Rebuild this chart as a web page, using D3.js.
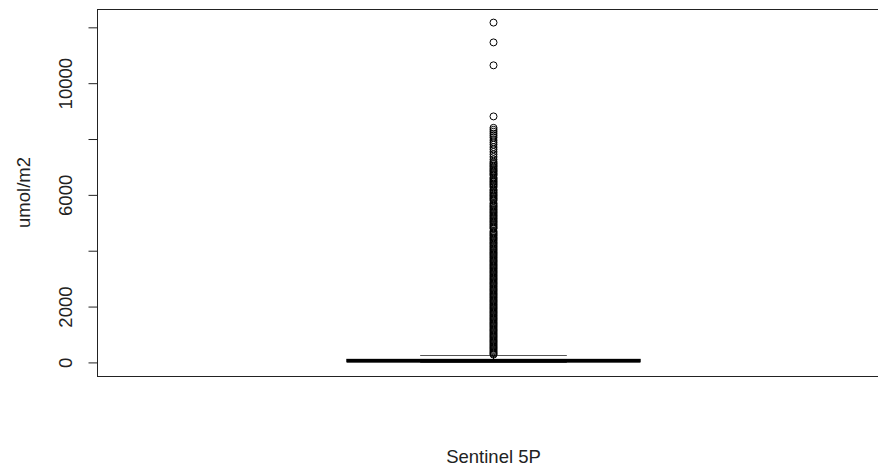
<!DOCTYPE html>
<meta charset="utf-8">
<style>
body {
  margin: 0;
  background: #fff;
}
text {
  font-family: "Liberation Sans", Arial, sans-serif;
  font-size: 18.5px;
  fill: #222;
}
</style>
<body>
<script src="https://cdn.jsdelivr.net/npm/d3@7"></script>
<script>

var width = 878,
    height = 468;

var group = "Sentinel 5P";
var yLabel = "umol/m2";

// box statistics (umol/m2)
var boxStats = {lowWhisker: 0, q1: 20, median: 60, q3: 110, highWhisker: 265};

// outliers
var outliersTop = [12170, 11460, 10640, 8810];
var outliersUpper = [8400, 8330, 8260, 8190, 8120, 8050, 7960, 7880, 7800, 7710,
  7630, 7540, 7450, 7360, 7270, 7190];
var outliersMiddle = [7140, 7100, 7050, 7010, 6960, 6915, 6870, 6830, 6780, 6740,
  6700, 6620, 6580, 6535, 6490, 6450, 6400, 6360, 6315, 6270, 6190, 6150, 6100,
  6060, 6010, 5970, 5925, 5880, 5840, 5790, 5710, 5670, 5620, 5580, 5535, 5490,
  5450, 5400, 5360, 5315, 5270, 5230, 5180, 5140, 5095, 5050, 5010, 4960, 4920,
  4875, 4830, 4790, 4705];
var outliersLower = [4660, 4615, 4570, 4530, 4480, 4440, 4395, 4350, 4300, 4262,
  4215, 4170, 4130, 4085, 4040, 3995, 3950, 3912, 3870, 3825, 3780, 3740, 3695,
  3650, 3610, 3565, 3520, 3480, 3436, 3390, 3350, 3305, 3262, 3220, 3175, 3130,
  3090, 3046, 3000, 2960, 2915, 2870, 2830, 2786, 2740, 2700, 2655, 2612, 2570,
  2525, 2480, 2440, 2396, 2350, 2310, 2265, 2222, 2180, 2135, 2090, 2050, 2006,
  1960, 1920, 1876, 1832, 1790, 1745, 1700, 1660, 1616, 1572, 1530, 1486, 1440,
  1400, 1356, 1312, 1270, 1226, 1180, 1140, 1096, 1052, 1010, 966, 922, 880, 836,
  792, 750, 706, 662, 620, 576, 532, 490, 446, 402, 360, 318, 280];

var yTicks = [0, 2000, 4000, 6000, 8000, 10000, 12000];
var yTickLabels = [0, 2000, 6000, 10000];

var outliers = outliersTop.concat(outliersUpper, outliersMiddle, outliersLower);

var plot = {left: 97.5, right: 889.5, top: 9, bottom: 376};

var yMin = 0, yMax = d3.max(outliers);
var pad = (yMax - yMin) * 0.04;

var y = d3.scaleLinear()
    .domain([yMin - pad, yMax + pad])
    .range([plot.bottom, plot.top]);

var x = d3.scaleLinear()
    .domain([0.46, 1.54])
    .range([plot.left, plot.right]);

var svg = d3.select("body").append("svg")
    .attr("width", width)
    .attr("height", height);

var cx = x(1),
    halfBox = x(1.2) - x(1),
    halfCap = x(1.1) - x(1);

// whisker (dashed) and cap
svg.append("line")
    .attr("x1", cx).attr("x2", cx)
    .attr("y1", y(boxStats.q3)).attr("y2", y(boxStats.highWhisker))
    .attr("stroke", "#000").attr("stroke-dasharray", "4,3");

svg.selectAll(".cap")
    .data([boxStats.lowWhisker, boxStats.highWhisker])
  .enter().append("line")
    .attr("class", "cap")
    .attr("x1", cx - halfCap).attr("x2", cx + halfCap)
    .attr("y1", function(d) { return Math.round(y(d)) + 0.5; })
    .attr("y2", function(d) { return Math.round(y(d)) + 0.5; })
    .attr("stroke", "#555").attr("stroke-width", 1);

// box
svg.append("rect")
    .attr("x", cx - halfBox)
    .attr("y", y(boxStats.q3))
    .attr("width", halfBox * 2)
    .attr("height", y(boxStats.q1) - y(boxStats.q3))
    .attr("fill", "#fff")
    .attr("stroke", "#000");

// outlier circles
svg.selectAll(".point")
    .data(outliers)
  .enter().append("circle")
    .attr("class", "point")
    .attr("cx", cx)
    .attr("cy", function(d) { return y(d); })
    .attr("r", 3.5)
    .attr("fill", "none")
    .attr("stroke", "#000")
    .attr("stroke-width", 1);

// median
svg.append("line")
    .attr("x1", cx - halfBox).attr("x2", cx + halfBox)
    .attr("y1", y(boxStats.median)).attr("y2", y(boxStats.median))
    .attr("stroke", "#000").attr("stroke-width", 3.5);

// plot frame
svg.append("rect")
    .attr("x", plot.left)
    .attr("y", plot.top + 0.5)
    .attr("width", plot.right - plot.left)
    .attr("height", plot.bottom - plot.top)
    .attr("fill", "none")
    .attr("stroke", "#222");

// y axis
var yAxis = d3.axisLeft(y)
    .tickValues(yTicks)
    .tickSize(9)
    .tickPadding(16)
    .tickFormat(function(d) { return yTickLabels.indexOf(d) >= 0 ? d : ""; });

var gy = svg.append("g")
    .attr("transform", "translate(" + plot.left + ",0)")
    .call(yAxis);

gy.select(".domain")
    .attr("d", "M0," + y(yTicks[0]) + "V" + y(yTicks[yTicks.length - 1]))
    .attr("stroke", "#222");
gy.selectAll(".tick line").attr("stroke", "#222");
gy.selectAll(".tick text")
    .attr("font-family", null)
    .attr("font-size", null)
    .attr("fill", null)
    .attr("x", null).attr("dy", null)
    .attr("text-anchor", "middle")
    .attr("dominant-baseline", "central")
    .attr("transform", "translate(-32,0) rotate(-90)");

// axis titles
svg.append("text")
    .attr("transform", "translate(23," + ((plot.top + plot.bottom) / 2) + ") rotate(-90)")
    .attr("text-anchor", "middle")
    .attr("dominant-baseline", "central")
    .text(yLabel);

svg.append("text")
    .attr("x", cx)
    .attr("y", 456)
    .attr("text-anchor", "middle")
    .attr("dominant-baseline", "central")
    .text(group);

</script>
